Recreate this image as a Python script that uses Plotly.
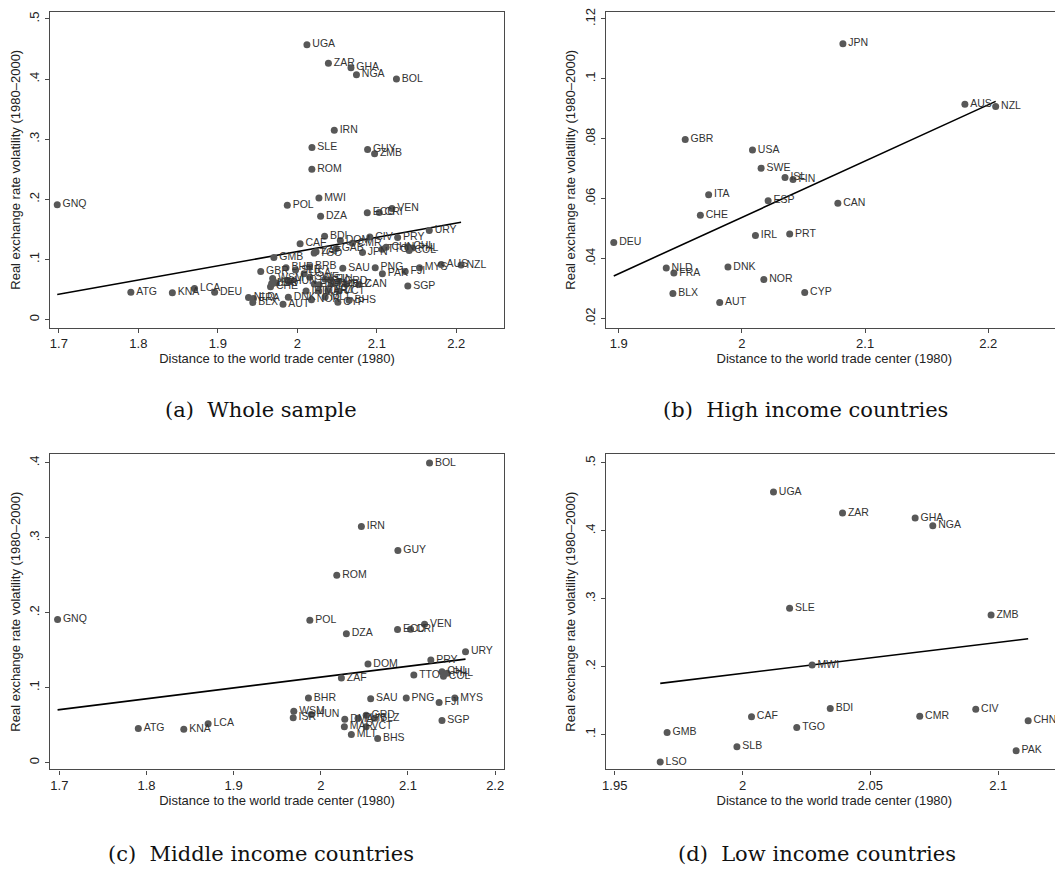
import numpy as np
import plotly.graph_objects as go

# ---------------- data ----------------
high_codes = ["JPN", "AUS", "NZL", "GBR", "USA", "SWE", "ISL", "FIN", "ITA", "ESP", "CAN",
              "CHE", "IRL", "PRT", "DEU", "NLD", "FRA", "DNK", "NOR", "BLX", "AUT", "CYP"]
high_x = [2.082, 2.181, 2.206, 1.954, 2.0086, 2.0156, 2.035, 2.0415, 1.973, 2.0213, 2.0779,
          1.9663, 2.011, 2.0388, 1.896, 1.9386, 1.9448, 1.9887, 2.0178, 1.944, 1.982, 2.051]
high_y = [0.1117, 0.0915, 0.0908, 0.0798, 0.0763, 0.0702, 0.0671, 0.0664, 0.0613, 0.0593, 0.0585,
          0.0545, 0.0477, 0.0482, 0.0454, 0.0369, 0.0352, 0.0372, 0.0330, 0.0284, 0.0254, 0.0287]

mid_codes = ["BOL", "IRN", "GUY", "ROM", "GNQ", "POL", "DZA", "ECU", "CRI", "VEN", "URY", "PRY",
             "DOM", "CHL", "PHL", "COL", "TTO", "ZAF", "BHR", "SAU", "PNG", "MYS", "FJI", "SGP",
             "WSM", "ISR", "HUN", "DMA", "TUN", "GRD", "BLZ", "MAR", "VCT", "MLT", "BHS",
             "ATG", "KNA", "LCA"]
mid_x = [2.1247, 2.0465, 2.0884, 2.0183, 1.698, 1.9874, 2.0293, 2.088, 2.103, 2.119, 2.166, 2.1262,
         2.0541, 2.139, 2.145, 2.1407, 2.1067, 2.0236, 1.9858, 2.0572, 2.098, 2.1537, 2.1357, 2.139,
         1.969, 1.9683, 1.989, 2.0275, 2.0427, 2.052, 2.062, 2.027, 2.052, 2.035, 2.0652,
         1.7906, 1.8428, 1.8707]
mid_y = [0.400, 0.315, 0.283, 0.250, 0.191, 0.190, 0.172, 0.1775, 0.178, 0.1846, 0.148, 0.1367,
         0.1314, 0.121, 0.119, 0.115, 0.1168, 0.1128, 0.0862, 0.0852, 0.0862, 0.0862, 0.080, 0.056,
         0.0684, 0.0596, 0.064, 0.0578, 0.0592, 0.0632, 0.059, 0.0476, 0.0476, 0.0374, 0.032,
         0.0454, 0.0445, 0.0516]

low_codes = ["UGA", "ZAR", "GHA", "NGA", "SLE", "ZMB", "MWI", "BDI", "CAF", "CMR", "CIV", "CHN",
             "TGO", "GMB", "SLB", "PAK", "LSO"]
low_x = [2.0121, 2.0391, 2.0675, 2.0744, 2.0184, 2.0972, 2.0272, 2.0343, 2.0035, 2.0693, 2.0912,
         2.1117, 2.0212, 1.9705, 1.9978, 2.107, 1.9678]
low_y = [0.4571, 0.4263, 0.419, 0.4073, 0.2862, 0.276, 0.2024, 0.1384, 0.1262, 0.1271, 0.1374,
         0.1204, 0.1106, 0.1033, 0.0823, 0.0764, 0.0598]

# countries only visible in the whole sample
other_codes = ["GAB", "BRB"]
other_x = [2.049, 2.0154]
other_y = [0.118, 0.088]

x_title = "Distance to the world trade center (1980)"
y_title = "Real exchange rate volatility (1980\u20132000)"
captions = ["(a)  Whole sample", "(b)  High income countries",
            "(c)  Middle income countries", "(d)  Low income countries"]

a_xticks = [1.7, 1.8, 1.9, 2.0, 2.1, 2.2]
a_xlabels = ["1.7", "1.8", "1.9", "2", "2.1", "2.2"]
a_yticks = [0, 0.1, 0.2, 0.3, 0.4, 0.5]
a_ylabels = ["0", ".1", ".2", ".3", ".4", ".5"]
b_xticks = [1.9, 2.0, 2.1, 2.2]
b_xlabels = ["1.9", "2", "2.1", "2.2"]
b_yticks = [0.02, 0.04, 0.06, 0.08, 0.10, 0.12]
b_ylabels = [".02", ".04", ".06", ".08", ".1", ".12"]
c_xticks = [1.7, 1.8, 1.9, 2.0, 2.1, 2.2]
c_xlabels = ["1.7", "1.8", "1.9", "2", "2.1", "2.2"]
c_yticks = [0, 0.1, 0.2, 0.3, 0.4]
c_ylabels = ["0", ".1", ".2", ".3", ".4"]
d_xticks = [1.95, 2.0, 2.05, 2.1]
d_xlabels = ["1.95", "2", "2.05", "2.1"]
d_yticks = [0.1, 0.2, 0.3, 0.4, 0.5]
d_ylabels = [".1", ".2", ".3", ".4", ".5"]

# ---------------- layout geometry (screen pixels) ----------------
OFF = 8                     # default page margin around the plot div
W, H = 1063 - OFF, 870 - OFF
MARK = "#585858"
FRAME = "#4a4a4a"
SANS = "Liberation Sans, Arial, sans-serif"
SERIF = "DejaVu Serif, serif"


def lin_range(p0, v0, p1, v1, lo, hi):
    k = (v1 - v0) / (p1 - p0)
    return [v0 + (lo - p0) * k, v0 + (hi - p0) * k]


panels = [
    dict(codes=high_codes + mid_codes + low_codes + other_codes,
         x=high_x + mid_x + low_x + other_x, y=high_y + mid_y + low_y + other_y,
         fx=(46, 502), fy=(325, 6), xcal=(55, 1.7, 454, 2.2), ycal=(317, 0.0, 15, 0.5),
         xt=(a_xticks, a_xlabels), yt=(a_yticks, a_ylabels), right=True),
    dict(codes=high_codes, x=high_x, y=high_y,
         fx=(604, 1063), fy=(325, 6), xcal=(617, 1.9, 988, 2.2), ycal=(316, 0.02, 15, 0.12),
         xt=(b_xticks, b_xlabels), yt=(b_yticks, b_ylabels), right=False),
    dict(codes=mid_codes, x=mid_x, y=mid_y,
         fx=(46, 502), fy=(769, 452), xcal=(55.5, 1.7, 493, 2.2), ycal=(762, 0.0, 461, 0.4),
         xt=(c_xticks, c_xlabels), yt=(c_yticks, c_ylabels), right=True),
    dict(codes=low_codes, x=low_x, y=low_y,
         fx=(604, 1063), fy=(769, 452), xcal=(613, 1.95, 998, 2.1), ycal=(734, 0.1, 461, 0.5),
         xt=(d_xticks, d_xlabels), yt=(d_yticks, d_ylabels), right=False),
]

fig = go.Figure()
layout = dict(width=W, height=H, margin=dict(l=0, r=0, t=0, b=0),
              paper_bgcolor="white", plot_bgcolor="white", showlegend=False,
              font=dict(family=SANS, color="#222"))

for i, p in enumerate(panels):
    k = "" if i == 0 else str(i + 1)
    xs = np.array(p["x"])
    ys = np.array(p["y"])
    slope, icpt = np.polyfit(xs, ys, 1)
    lx = np.array([xs.min(), xs.max()])
    fig.add_trace(go.Scatter(x=lx, y=icpt + slope * lx, mode="lines",
                             line=dict(color="black", width=1.6),
                             xaxis="x" + k, yaxis="y" + k, hoverinfo="skip"))
    fig.add_trace(go.Scatter(x=p["x"], y=p["y"], text=p["codes"], mode="markers+text",
                             textposition="middle right",
                             marker=dict(color=MARK, size=7),
                             textfont=dict(family=SANS, size=10.5, color="#333"),
                             cliponaxis=False, xaxis="x" + k, yaxis="y" + k))

    xl, xh = p["fx"]
    yb, yt = p["fy"]
    yt_c = max(yt, OFF)
    xr = lin_range(*p["xcal"], xl, xh)
    yr = lin_range(*p["ycal"], yb, yt_c)
    axcommon = dict(showline=True, linecolor=FRAME, linewidth=1.4, ticks="outside",
                    ticklen=4, tickcolor=FRAME, tickwidth=1.2, showgrid=False, zeroline=False,
                    ticklabeloverflow="allow",
                    tickfont=dict(family=SANS, size=13, color="#222"))
    layout["xaxis" + k] = dict(axcommon,
        domain=[(xl - OFF) / W, min(1.0, (xh - OFF) / W)], range=xr,
        anchor="y" + k, mirror=True,
        tickvals=p["xt"][0], ticktext=p["xt"][1],
        title=dict(text=x_title, font=dict(family=SANS, size=13, color="#222"), standoff=1))
    layout["yaxis" + k] = dict(axcommon,
        domain=[1 - (yb - OFF) / H, 1 - (yt_c - OFF) / H], range=yr,
        anchor="x" + k, mirror=p["right"],
        tickvals=p["yt"][0], ticktext=p["yt"][1], tickangle=-90,
        title=dict(text=y_title, font=dict(family=SANS, size=13, color="#222"), standoff=4))

cap_pos = [(258, 408), (805, 408), (258, 854), (816, 854)]
annotations = []
for (cx, cy), txt in zip(cap_pos, captions):
    annotations.append(dict(x=(cx - OFF) / W, y=1 - (cy - OFF) / H, xref="paper", yref="paper",
                            text=txt, showarrow=False, xanchor="center", yanchor="middle",
                            font=dict(family=SERIF, size=21, color="#111")))
layout["annotations"] = annotations
fig.update_layout(**layout)
fig.write_html("out.html")
